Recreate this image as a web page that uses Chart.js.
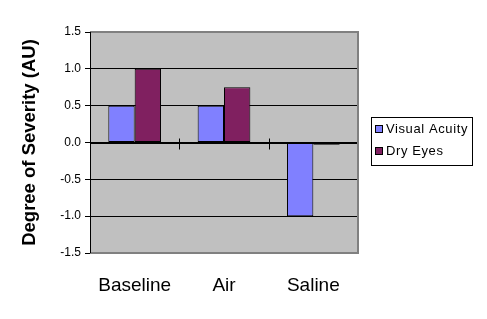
<!DOCTYPE html>
<html>
<head>
<meta charset="utf-8">
<script src="https://cdn.jsdelivr.net/npm/chart.js@4.4.0/dist/chart.umd.min.js"></script>
<style>
  html, body { margin: 0; padding: 0; background: #fff; }
  #wrap { width: 487px; height: 319px; }
</style>
</head>
<body>
<div id="wrap"><canvas id="myChart" width="487" height="319"></canvas></div>
<script>
// data
const categories = ['Baseline', 'Air', 'Saline'];
const visualAcuity = [0.5, 0.5, -1.0];
const dryEyes = [1.0, 0.75, -0.03];
const yTicks = [-1.5, -1.0, -0.5, 0.0, 0.5, 1.0, 1.5];

const seriesNames = ['Visual Acuity', 'Dry Eyes'];
const seriesColors = ['#8080FF', '#802060'];

/* plot area bg + border */
const plotArea = {
  id: 'plotArea',
  beforeDraw(chart) {
    const a = chart.chartArea, c = chart.ctx;
    c.save();
    c.fillStyle = '#C0C0C0';
    c.fillRect(a.left, a.top, a.right - a.left, a.bottom - a.top);
    c.restore();
  },
  afterDraw(chart) {
    const a = chart.chartArea, c = chart.ctx;
    c.save();
    c.strokeStyle = '#808080';
    c.lineWidth = 2;
    c.beginPath();
    c.moveTo(a.left, a.top);
    c.lineTo(a.right, a.top);
    c.lineTo(a.right, a.bottom);
    c.lineTo(a.left, a.bottom);
    c.stroke();
    // y axis line
    c.strokeStyle = '#000';
    c.lineWidth = 1;
    c.beginPath();
    c.moveTo(a.left + 0.5, a.top);
    c.lineTo(a.left + 0.5, a.bottom);
    c.stroke();
    c.restore();
  }
};

/* category axis at zero */
const zeroAxis = {
  id: 'zeroAxis',
  afterDatasetsDraw(chart) {
    const x = chart.scales.x, y = chart.scales.y, c = chart.ctx;
    const y0 = Math.round(y.getPixelForValue(0)) + 0.5;
    c.save();
    c.strokeStyle = '#000';
    c.lineWidth = 1;
    c.beginPath();
    c.moveTo(x.left, y0);
    c.lineTo(x.right, y0);
    const step = (x.right - x.left) / categories.length;
    for (let i = 1; i <= categories.length; i++) {
      const px = Math.round(x.left + step * i) + 0.5;
      c.moveTo(px, y0 - 5);
      c.lineTo(px, y0 + 6);
    }
    c.stroke();
    c.restore();
  }
};

/* boxed legend */
const boxLegend = {
  id: 'boxLegend',
  afterDraw(chart) {
    const a = chart.chartArea, c = chart.ctx;
    const lx = a.right + 13, ly = 117, w = 101, h = 48;
    c.save();
    c.fillStyle = '#fff';
    c.fillRect(lx, ly, w, h);
    c.strokeStyle = '#000';
    c.lineWidth = 1;
    c.strokeRect(lx + 0.5, ly + 0.5, w, h);
    c.font = '13px "Liberation Sans", Arial, sans-serif';
    c.letterSpacing = '0.6px';
    c.textBaseline = 'middle';
    seriesNames.forEach(function(name, i) {
      const cy = ly + 12 + i * 22;
      c.fillStyle = seriesColors[i];
      c.fillRect(lx + 4.5, cy - 3.5, 7, 7);
      c.strokeRect(lx + 4.5, cy - 3.5, 7, 7);
      c.fillStyle = '#000';
      c.fillText(name, lx + 15, cy);
    });
    c.restore();
  }
};

const ctx = document.getElementById('myChart');

const myChart = new Chart(ctx, {
  type: 'bar',
  data: {
    labels: categories,
    datasets: [{
      label: seriesNames[0],
      data: visualAcuity,
      backgroundColor: seriesColors[0],
      borderColor: '#000',
      borderWidth: 1,
      borderSkipped: false
    }, {
      label: seriesNames[1],
      data: dryEyes,
      backgroundColor: seriesColors[1],
      borderColor: '#000',
      borderWidth: 1,
      borderSkipped: false
    }]
  },
  options: {
    responsive: false,
    animation: false,
    layout: { padding: { top: 32, right: 129, bottom: 0, left: 0 } },
    plugins: {
      legend: { display: false },
      tooltip: { enabled: false }
    },
    datasets: {
      bar: { categoryPercentage: 0.59, barPercentage: 1.0 }
    },
    scales: {
      x: {
        grid: { display: false, drawTicks: false },
        border: { display: false },
        ticks: {
          color: '#000',
          padding: 21,
          font: { family: '"Liberation Sans", Arial, sans-serif', size: 19 }
        },
        afterFit(s) { s.height = 66; }
      },
      y: {
        min: -1.5,
        max: 1.5,
        afterBuildTicks(s) { s.ticks = yTicks.map(function(v) { return { value: v }; }); },
        grid: {
          color: function(c) { return Math.abs(c.tick.value) === 1.5 ? 'rgba(0,0,0,0)' : '#000'; },
          tickColor: '#000',
          tickLength: 5,
          lineWidth: 1
        },
        border: { display: false },
        ticks: {
          color: '#000',
          padding: 4,
          font: { family: '"Liberation Sans", Arial, sans-serif', size: 12 },
          callback: function(v) { return Number(v).toFixed(1); }
        },
        title: {
          display: true,
          text: 'Degree of Severity (AU)',
          color: '#000',
          padding: { top: 19, bottom: 0 },
          font: { family: '"Liberation Sans", Arial, sans-serif', size: 18.5, weight: 'bold' }
        },
        afterFit(s) { s.width = 90; }
      }
    }
  },
  plugins: [plotArea, zeroAxis, boxLegend]
});
</script>
</body>
</html>
